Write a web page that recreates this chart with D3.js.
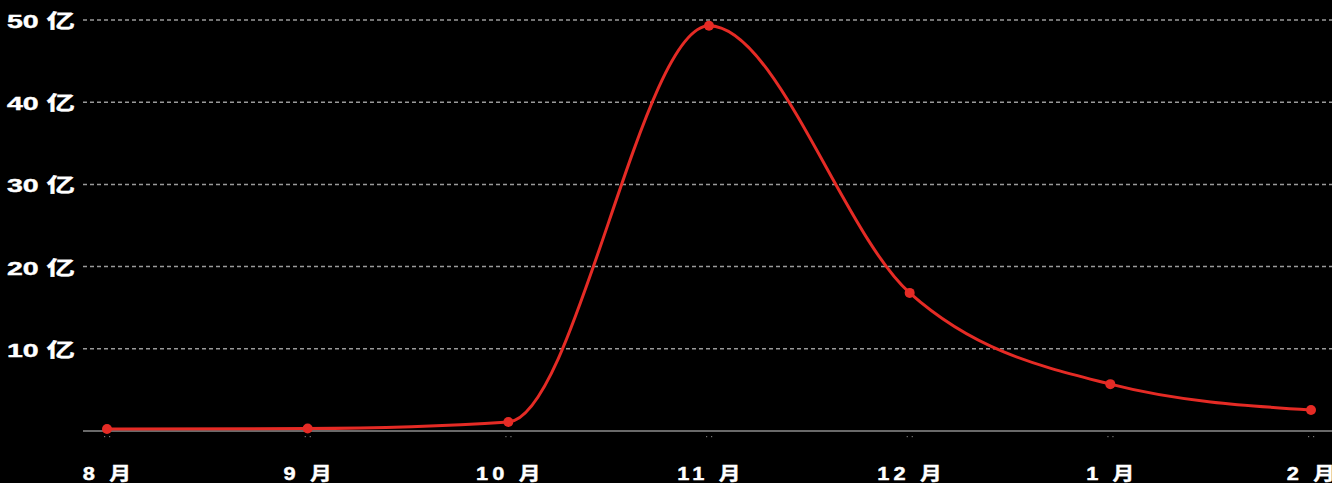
<!DOCTYPE html>
<html><head><meta charset="utf-8">
<script src="https://cdn.jsdelivr.net/npm/d3@7"></script>
<style>
html,body{margin:0;padding:0;background:#000;overflow:hidden}
svg{display:block}
text{font-family:"Liberation Sans",Arial,"Noto Sans CJK SC",sans-serif;font-weight:bold;fill:#fff;stroke:#fff;stroke-width:0.4px}
</style></head><body>
<svg id="c" width="1332" height="483"></svg>
<script>
const months = ["8 月","9 月","10 月","11 月","12 月","1 月","2 月"];
const values = [0.25, 0.3, 1.1, 49.3, 16.8, 5.7, 2.55];
const yTicks = [10, 20, 30, 40, 50];
const yTickLabel = v => v + " 亿";

const W = 1332, H = 483;
const svg = d3.select("#c");
svg.append("rect").attr("width", W).attr("height", H).attr("fill", "#000");

const x = d3.scalePoint().domain(months).range([107, 1311]);
const y = d3.scaleLinear().domain([0, 50]).range([431, 20]);

// grid lines
svg.append("g").selectAll("line").data(yTicks).join("line")
  .attr("x1", 83).attr("x2", W)
  .attr("y1", d => y(d)).attr("y2", d => y(d))
  .attr("stroke", "#9a9a9a").attr("stroke-width", 1.5)
  .attr("stroke-dasharray", "4,3");

// y labels (horizontally stretched)
svg.append("g").selectAll("g").data(yTicks).join("g")
  .attr("transform", d => `translate(75,${y(d)}) scale(1.5,1)`)
  .append("text")
  .attr("x", 0).attr("y", 0).attr("dy", "0.42em")
  .attr("text-anchor", "end").attr("font-size", 19)
  .text(yTickLabel);

// x axis line
svg.append("line").attr("x1", 83).attr("x2", W)
  .attr("y1", y(0)).attr("y2", y(0))
  .attr("stroke", "#8c8c8c").attr("stroke-width", 1.5);

// tick dots
const tg = svg.append("g").selectAll("g").data(months).join("g")
  .attr("transform", d => `translate(${x(d)},0)`);
tg.append("rect").attr("x", -3).attr("y", 436).attr("width", 1.2).attr("height", 1.2).attr("fill", "#777");
tg.append("rect").attr("x", 2).attr("y", 436).attr("width", 1.2).attr("height", 1.2).attr("fill", "#777");

// x labels (letter-spaced, slightly stretched)
svg.append("g").selectAll("g").data(months).join("g")
  .attr("transform", d => `translate(${x(d) + 2},480) scale(1.18,1)`)
  .append("text")
  .attr("x", 0).attr("y", 0)
  .attr("text-anchor", "middle").attr("font-size", 18.5)
  .attr("letter-spacing", 3.5)
  .text(d => d);

// line
const data = months.map((m, i) => ({m, v: values[i]}));
const line = d3.line().x(d => x(d.m)).y(d => y(d.v)).curve(d3.curveMonotoneX);
svg.append("path").datum(data).attr("d", line)
  .attr("fill", "none").attr("stroke", "#e52b25").attr("stroke-width", 3);

svg.append("g").selectAll("circle").data(data).join("circle")
  .attr("cx", d => x(d.m)).attr("cy", d => y(d.v)).attr("r", 5)
  .attr("fill", "#e52b25");
</script>
</body></html>
